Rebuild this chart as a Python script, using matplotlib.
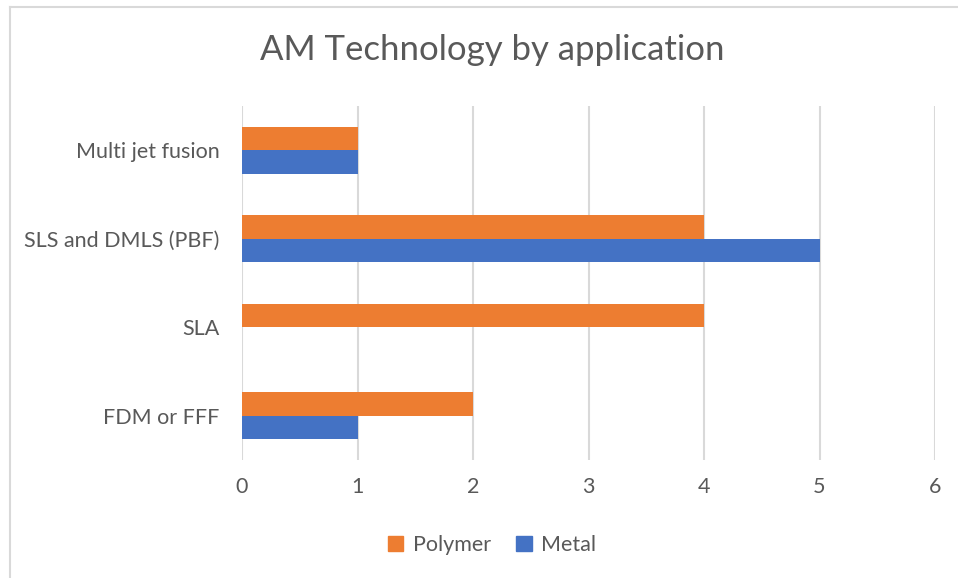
import numpy as np
import matplotlib
matplotlib.use("Agg")
from matplotlib import pyplot as plt
from matplotlib.lines import Line2D

# data
categories = ["FDM or FFF", "SLA", "SLS and DMLS (PBF)", "Multi jet fusion"]
polymer = [2, 4, 4, 1]
metal = [1, 0, 5, 1]

plt.rcParams['font.family'] = ['Lato', 'DejaVu Sans']
text_color = '#595959'
orange = '#ED7D31'
blue = '#4472C4'

fig = plt.figure(figsize=(9.58, 5.78), dpi=100)
ax = fig.add_axes([242/958, (578-460)/578, (935-242)/958, (460-106)/578])

y = np.arange(len(categories))
h = 0.265
ax.barh(y + h/2, polymer, height=h, color=orange, label='Polymer', zorder=3)
ax.barh(y - h/2, metal, height=h, color=blue, label='Metal', zorder=3)

ax.set_xlim(0, 6)
ax.set_ylim(-0.5, len(categories) - 0.5)
ax.set_yticks(y)
ax.set_yticklabels(categories)
ax.set_xticks(range(7))
ax.xaxis.grid(True, color='#D9D9D9', linewidth=1.5, zorder=0)
for s in ax.spines.values():
    s.set_visible(False)
ax.tick_params(axis='both', length=0, labelsize=15.5, colors=text_color)
ax.tick_params(axis='y', pad=16)
ax.tick_params(axis='x', pad=12)

fig.text(492/958, 1 - 50/578, "AM Technology by application", ha='center', va='center',
         fontsize=25, color=text_color)

handles = [plt.Rectangle((0, 0), 1, 1, color=orange), plt.Rectangle((0, 0), 1, 1, color=blue)]
fig.legend(handles, ['Polymer', 'Metal'], loc='center', bbox_to_anchor=(492/958, 1 - 545/578),
           ncol=2, frameon=False, fontsize=15.5, labelcolor=text_color,
           handlelength=0.7, handleheight=0.7, handletextpad=0.45, columnspacing=1.2)

# outer border of the chart area
fig.add_artist(Line2D([10/958, 10/958], [0, 1 - 7/578], color='#D9D9D9', linewidth=1.5))
fig.add_artist(Line2D([10/958, 1], [1 - 7/578, 1 - 7/578], color='#D9D9D9', linewidth=1.5))

plt.savefig("out.png", dpi=100)
